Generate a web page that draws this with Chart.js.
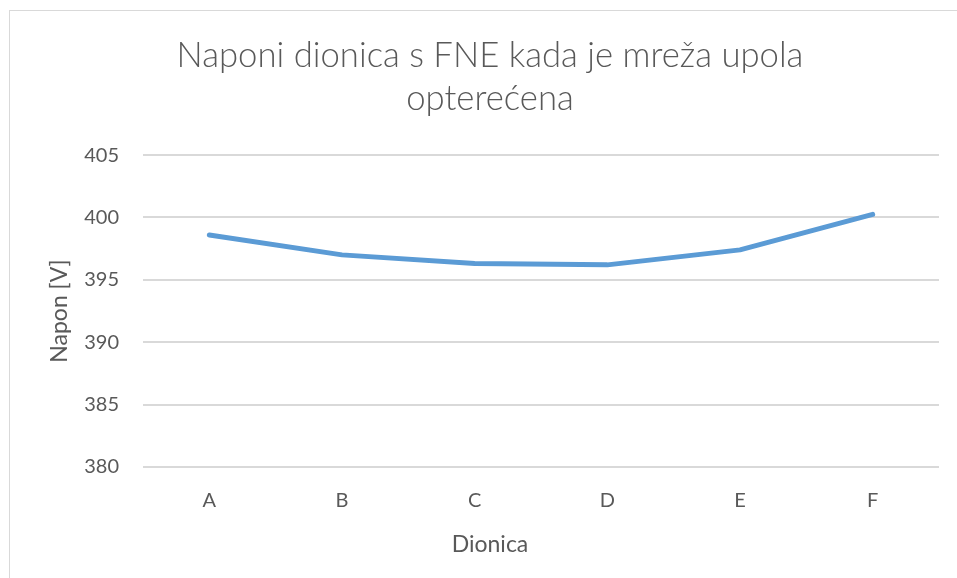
<!DOCTYPE html>
<html>
<head>
<meta charset="utf-8">
<script src="https://cdn.jsdelivr.net/npm/chart.js@4/dist/chart.umd.min.js"></script>
<style>
  html, body { margin: 0; padding: 0; background: #fff; overflow: hidden; }
  #wrap { position: relative; width: 957px; height: 578px; overflow: hidden; }
  #frame { position: absolute; left: 9px; top: 10px; width: 1000px; height: 700px; border: 1px solid #d9d9d9; box-sizing: border-box; }
  #box { position: absolute; left: 0; top: 0; width: 980px; height: 578px; }
</style>
</head>
<body>
<div id="wrap">
  <div id="frame"></div>
  <div id="box"><canvas id="chart" width="980" height="578"></canvas></div>
</div>
<script>
/* Podaci */
const dionice = ['A', 'B', 'C', 'D', 'E', 'F'];
const naponi = [398.6, 397.0, 396.3, 396.2, 397.4, 400.25];
const yMin = 380;
const yMax = 405;
const yStep = 5;
const xNaslov = 'Dionica';

const tekst = '#595959';
const font = "Lato, 'Open Sans', sans-serif";

/* naslov x osi centriran na cijeli okvir, kao u Excelu */
const xNaslovPlugin = {
    id: 'xNaslov',
    afterDraw(chart) {
        const c = chart.ctx;
        c.save();
        c.font = '400 23px ' + font;
        c.fillStyle = tekst;
        c.textAlign = 'center';
        c.textBaseline = 'middle';
        c.fillText(xNaslov, chart.width / 2, chart.height - 33);
        c.restore();
    }
};

const ctx = document.getElementById('chart');
new Chart(ctx, {
    type: 'line',
    data: {
        labels: dionice,
        datasets: [{
            label: 'Napon',
            data: naponi,
            borderColor: '#5B9BD5',
            backgroundColor: '#5B9BD5',
            borderWidth: 5,
            borderCapStyle: 'round',
            borderJoinStyle: 'round',
            pointRadius: 0,
            tension: 0
        }]
    },
    plugins: [xNaslovPlugin],
    options: {
        responsive: false,
        animation: false,
        devicePixelRatio: 1,
        layout: { padding: { left: 41, right: 41, top: 0, bottom: 0 } },
        plugins: {
            legend: { display: false },
            tooltip: { enabled: false },
            title: {
                display: true,
                text: ['Naponi dionica s FNE kada je mreža upola', 'opterećena'],
                color: tekst,
                font: { family: font, size: 34.7, weight: '300', lineHeight: 1.24 },
                padding: { top: 34.5, bottom: 34.5 }
            }
        },
        scales: {
            x: {
                offset: true,
                grid: { display: false, drawTicks: false },
                border: { display: false },
                ticks: { color: tekst, font: { family: font, size: 20 }, padding: 22 },
                afterFit: function (axis) { axis.height = 111; }
            },
            y: {
                min: yMin,
                max: yMax,
                grid: { color: '#d9d9d9', lineWidth: 2, drawTicks: false },
                border: { display: false },
                ticks: { stepSize: yStep, color: tekst, font: { family: font, size: 20 }, padding: 24 },
                title: {
                    display: true, text: 'Napon [V]', color: tekst,
                    font: { family: font, size: 23 }, padding: { top: 5, bottom: 0 }
                },
                afterFit: function (axis) { axis.width = 102; }
            }
        }
    }
});
</script>
</body>
</html>
